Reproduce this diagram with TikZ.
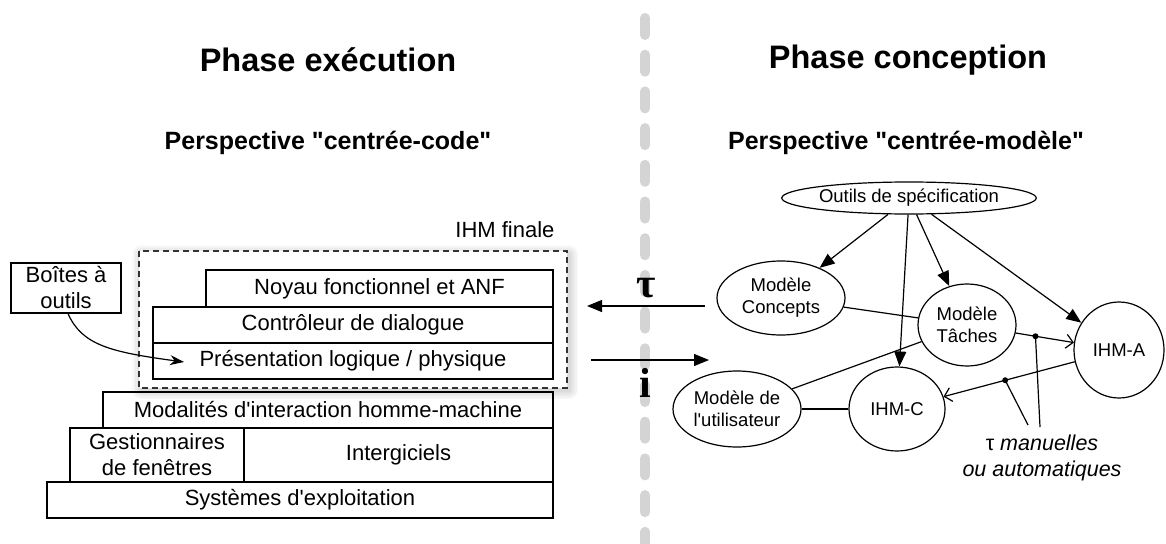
\documentclass[tikz,border=0pt]{standalone}
\usepackage{fontspec}
\setmainfont{Liberation Sans}
\newfontfamily\grserif{Liberation Serif}
\usetikzlibrary{shapes.geometric,arrows.meta,calc}
\begin{document}
\begin{tikzpicture}[x=1pt,y=-1pt,
  layer/.style={draw, line width=1.2pt, inner sep=0pt, align=center, font=\fontsize{22}{26}\selectfont},
  ell/.style={draw, ellipse, line width=1.2pt, inner sep=0pt, align=center, font=\fontsize{18.5}{22}\selectfont},
  plainline/.style={line width=1.2pt},
  fillarrow/.style={line width=1.2pt, -{Triangle[length=15pt,width=12pt]}},
  openarrow/.style={line width=1.2pt, -{Straight Barb[length=7pt,width=14pt]}},
  headtxt/.style={font=\fontsize{32.5}{36}\selectfont\bfseries},
  subtxt/.style={font=\fontsize{25}{29}\selectfont\bfseries},
  bigsym/.style={font=\fontsize{42}{44}\selectfont\grserif\bfseries},
  dotmark/.style={fill=black, circle, inner sep=0pt, minimum size=6pt}
]
\useasboundingbox[fill=white] (0,0) rectangle (1166,543);

% separator
\draw[line width=10pt, color=black!17, line cap=round, dash pattern=on 17pt off 19.7pt] (645,18) -- (645,543);

% headings
\node[headtxt] (h1) at (328,60) {Phase exécution};
\node[headtxt] (h2) at (908,60) {Phase conception};
\node[subtxt] (s1) at (328,143) {Perspective \textquotedbl centrée-code\textquotedbl};
\node[subtxt] (s2) at (906,143) {Perspective \textquotedbl centrée-modèle\textquotedbl};

% IHM finale frame with soft shadow
\foreach \w in {3,6,...,18}
  \draw[black, draw opacity=0.022, line width=\w pt, line join=round] (141,254) rectangle (569,390);
\fill[white] (139,251) rectangle (567,388);
\draw[black!80, line width=1.2pt, dash pattern=on 6pt off 4pt] (139,251) rectangle (567,388);
\node[font=\fontsize{22}{26}\selectfont, anchor=east] (ihmfinale) at (558,230) {IHM finale};

% layers
\node[layer, minimum width=347pt, minimum height=37pt] (noyau) at (379.5,288.5) {Noyau fonctionnel et ANF};
\node[layer, minimum width=400pt, minimum height=36pt] (ctrl) at (353,325) {Contrôleur de dialogue};
\node[layer, minimum width=400pt, minimum height=36pt] (pres) at (353,361) {Présentation logique / physique};
\node[layer, minimum width=450pt, minimum height=36pt] (modal) at (328,410) {Modalités d\textquotesingle interaction homme-machine};
\node[layer, minimum width=174pt, minimum height=54pt] (gest) at (157,455) {Gestionnaires\\de fenêtres};
\node[layer, minimum width=309pt, minimum height=54pt] (inter) at (398.5,455) {Intergiciels};
\node[layer, minimum width=506pt, minimum height=36pt] (sys) at (300,500) {Systèmes d\textquotesingle exploitation};
\node[layer, minimum width=110pt, minimum height=50pt] (boites) at (66,288) {Boîtes à\\outils};

\coordinate (prestip) at (184,362);
\draw[line width=1.2pt, -{Stealth[length=14pt,width=10pt]}] ($(boites.south)+(2,0)$) .. controls (82,345) and (110,352) .. (prestip);

% tau / i arrows
\coordinate (tauA) at (705,306);
\coordinate (tauB) at (587,306);
\coordinate (iA) at (591,360);
\coordinate (iB) at (709,360);
\draw[fillarrow] (tauA) -- (tauB);
\draw[fillarrow] (iA) -- (iB);
\node[bigsym] (tau) at (646,288) {τ};
\node[bigsym] (ii) at (645,383) {i};

% model graph
\node[ell, minimum width=254pt, minimum height=32pt] (outils) at (909,198) {Outils de spécification};
\node[ell, minimum width=128pt, minimum height=74pt] (concepts) at (781,298) {Modèle\\Concepts};
\node[ell, minimum width=98pt, minimum height=82pt] (taches) at (967,325) {Modèle\\Tâches};
\node[ell, minimum width=90pt, minimum height=96pt] (ihma) at (1119,350) {IHM-A};
\node[ell, minimum width=128pt, minimum height=76pt] (util) at (737,409) {Modèle de\\l\textquotesingle utilisateur};
\node[ell, minimum width=96pt, minimum height=84pt] (ihmc) at (897,409) {IHM-C};

\draw[fillarrow] (outils) -- (concepts);
\draw[fillarrow] (outils) -- (ihmc);
\draw[fillarrow] (outils) -- (taches);
\draw[fillarrow] (outils) -- (ihma);

\draw[plainline] (concepts) -- (taches);
\draw[plainline] (taches) -- (util);
\draw[plainline] (util) -- (ihmc);
\draw[openarrow] (taches) -- coordinate[pos=0.34] (d1) (ihma);
\draw[openarrow] (ihma) -- coordinate[pos=0.53] (d2) (ihmc);

\node[font=\fontsize{21.5}{25.5}\selectfont, align=center] (lbl) at (1042,458) {τ \itshape manuelles\\\itshape ou automatiques};
\coordinate (l1) at (1040,427);
\coordinate (l2) at (1028,425);
\draw[plainline] (d1) -- (l1);
\draw[plainline] (d2) -- (l2);
\node[dotmark] (dot1) at (d1) {};
\node[dotmark] (dot2) at (d2) {};
\end{tikzpicture}
\end{document}
